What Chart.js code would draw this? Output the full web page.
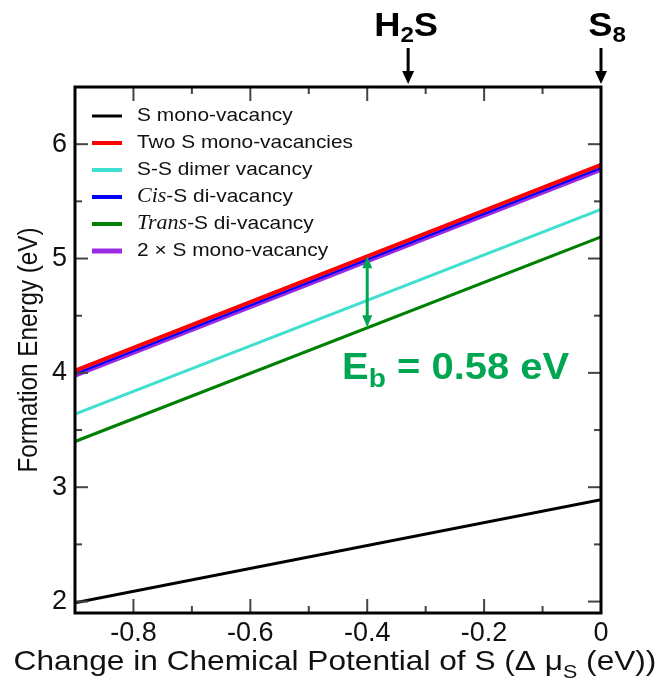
<!DOCTYPE html>
<html>
<head>
<meta charset="utf-8">
<script src="https://cdn.jsdelivr.net/npm/chart.js@4.4.0/dist/chart.umd.min.js"></script>
<style>
html, body { margin: 0; padding: 0; background: #fff; }
#wrap { width: 660px; height: 689px; position: relative; }
</style>
</head>
<body>
<div id="wrap"><canvas id="chart"></canvas></div>
<script>
// Datos (energia de formacion vs. delta mu_S)
const deltaMu = [-0.9, 0];
const monoVacancy = [1.99, 2.89];
const twoMonoVacancies = [4.02, 5.82];
const dimerVacancy = [3.64, 5.43];
const cisDiVacancy = [3.99, 5.79];
const transDiVacancy = [3.40, 5.19];
const twoTimesMono = [3.98, 5.78];

const xTicks = [-0.8, -0.6, -0.4, -0.2, 0];
const xMinorTicks = [-0.7, -0.5, -0.3, -0.1];
const yTicks = [2, 3, 4, 5, 6];
const yMinorTicks = [2.5, 3.5, 4.5, 5.5];

// anotaciones
const h2sMu = -0.33;
const s8Mu = 0;
const ebMu = -0.4;
const ebLow = 4.40;
const ebHigh = 5.02;
const ebLabelMu = -0.443;
const ebLabelE = 3.95;

const SANS = '"Liberation Sans", Arial, sans-serif';
const SERIF = '"Liberation Serif", "Times New Roman", serif';
const EB_GREEN = '#00a651';

const pts = (ys) => deltaMu.map((x, i) => ({ x: x, y: ys[i] }));

// dibuja texto con partes (subindices, cursivas); sx = estiramiento horizontal
function drawRich(ctx, parts, x, y, align, sx) {
    sx = sx || 1;
    let total = 0;
    parts.forEach(p => { ctx.font = p.font; total += ctx.measureText(p.t).width; });
    ctx.save();
    ctx.translate(x, y);
    ctx.scale(sx, 1);
    let cx = align === 'center' ? -total / 2 : 0;
    parts.forEach(p => {
        ctx.font = p.font;
        ctx.fillText(p.t, cx, p.dy || 0);
        cx += ctx.measureText(p.t).width;
    });
    ctx.restore();
}

function downArrow(ctx, x, y0, y1) {
    ctx.beginPath();
    ctx.moveTo(x, y0);
    ctx.lineTo(x, y1 - 10);
    ctx.stroke();
    ctx.beginPath();
    ctx.moveTo(x - 6, y1 - 13);
    ctx.lineTo(x + 6, y1 - 13);
    ctx.lineTo(x, y1);
    ctx.closePath();
    ctx.fill();
}

const legendRows = [
    { color: '#000000', width: 3, parts: [{ t: 'S mono-vacancy' }] },
    { color: '#ff0000', width: 4, parts: [{ t: 'Two S mono-vacancies' }] },
    { color: '#40e0d0', width: 4, parts: [{ t: 'S-S dimer vacancy' }] },
    { color: '#0000ff', width: 4, parts: [{ t: 'Cis', italic: true }, { t: '-S di-vacancy' }] },
    { color: '#008000', width: 4, parts: [{ t: 'Trans', italic: true }, { t: '-S di-vacancy' }] },
    { color: '#9a2be2', width: 5, parts: [{ t: '2 \u00d7 S mono-vacancy' }] }
];

const decoPlugin = {
    id: 'deco',
    afterDatasetsDraw(chart) {
        const ctx = chart.ctx;
        const a = chart.chartArea;
        const xs = chart.scales.x, ys = chart.scales.y;
        ctx.save();

        // marcas hacia dentro
        ctx.strokeStyle = '#444';
        ctx.lineWidth = 2;
        const tick = (x0, y0, x1, y1) => { ctx.beginPath(); ctx.moveTo(x0, y0); ctx.lineTo(x1, y1); ctx.stroke(); };
        xTicks.forEach(v => { const p = xs.getPixelForValue(v); tick(p, a.bottom, p, a.bottom - 14); tick(p, a.top, p, a.top + 14); });
        xMinorTicks.forEach(v => { const p = xs.getPixelForValue(v); tick(p, a.bottom, p, a.bottom - 7); tick(p, a.top, p, a.top + 7); });
        yTicks.forEach(v => { const p = ys.getPixelForValue(v); tick(a.left, p, a.left + 13, p); tick(a.right, p, a.right - 13, p); });
        yMinorTicks.forEach(v => { const p = ys.getPixelForValue(v); tick(a.left, p, a.left + 7, p); tick(a.right, p, a.right - 7, p); });

        // marco
        ctx.strokeStyle = '#000';
        ctx.lineWidth = 3;
        ctx.strokeRect(a.left, a.top, a.right - a.left, a.bottom - a.top);

        // leyenda
        ctx.textBaseline = 'middle';
        ctx.fillStyle = '#111';
        legendRows.forEach((r, i) => {
            const y = 116 + i * 27;
            ctx.strokeStyle = r.color;
            ctx.lineWidth = r.width;
            tick(a.left + 17, y, a.left + 47, y);
            drawRich(ctx, r.parts.map(p => ({
                t: p.t,
                font: p.italic ? 'italic 20px ' + SERIF : '19px ' + SANS
            })), a.left + 62, y, 'left', 1.1);
        });

        // titulo eje y (girado, estirado como en la figura)
        ctx.save();
        ctx.translate(29, (a.top + a.bottom) / 2);
        ctx.rotate(-Math.PI / 2);
        ctx.scale(0.865, 1);
        ctx.font = '28px ' + SANS;
        ctx.textAlign = 'center';
        ctx.textBaseline = 'middle';
        ctx.fillText('Formation Energy (eV)', 0, 0);
        ctx.restore();

        // flechas superiores
        ctx.fillStyle = '#000';
        ctx.strokeStyle = '#000';
        ctx.lineWidth = 3;
        ctx.textBaseline = 'alphabetic';
        const hx = xs.getPixelForValue(h2sMu);
        const sx = xs.getPixelForValue(s8Mu);
        downArrow(ctx, hx, 48, a.top - 3);
        downArrow(ctx, sx, 48, a.top - 3);
        drawRich(ctx, [
            { t: 'H', font: 'bold 33px ' + SANS },
            { t: '2', font: 'bold 22px ' + SANS, dy: 6 },
            { t: 'S', font: 'bold 33px ' + SANS }
        ], hx - 2, 36, 'center', 1.1);
        drawRich(ctx, [
            { t: 'S', font: 'bold 33px ' + SANS },
            { t: '8', font: 'bold 22px ' + SANS, dy: 6 }
        ], sx + 6, 36, 'center', 1.1);

        // flecha doble Eb
        ctx.strokeStyle = EB_GREEN;
        ctx.fillStyle = EB_GREEN;
        ctx.lineWidth = 3;
        const ex = xs.getPixelForValue(ebMu);
        const eTop = ys.getPixelForValue(ebHigh);
        const eBot = ys.getPixelForValue(ebLow);
        tick(ex, eTop + 10, ex, eBot - 10);
        ctx.beginPath(); ctx.moveTo(ex, eTop); ctx.lineTo(ex - 5, eTop + 12); ctx.lineTo(ex + 5, eTop + 12); ctx.closePath(); ctx.fill();
        ctx.beginPath(); ctx.moveTo(ex, eBot); ctx.lineTo(ex - 5, eBot - 12); ctx.lineTo(ex + 5, eBot - 12); ctx.closePath(); ctx.fill();
        drawRich(ctx, [
            { t: 'E', font: 'bold 37px ' + SANS },
            { t: 'b', font: 'bold 26px ' + SANS, dy: 8 },
            { t: ' = 0.58 eV', font: 'bold 37px ' + SANS }
        ], xs.getPixelForValue(ebLabelMu), ys.getPixelForValue(ebLabelE), 'left', 1.08);

        // titulo eje x
        ctx.fillStyle = '#111';
        drawRich(ctx, [
            { t: 'Change in Chemical Potential of S (\u0394 \u03bc', font: '28px ' + SANS },
            { t: 'S', font: '19px ' + SANS, dy: 8 },
            { t: ' (eV))', font: '28px ' + SANS }
        ], 335, 670, 'center', 1.13);

        ctx.restore();
    }
};

new Chart(document.getElementById('chart'), {
    type: 'line',
    data: {
        datasets: [
            { label: 'S mono-vacancy', data: pts(monoVacancy), borderColor: '#000000', borderWidth: 3, order: 1 },
            { label: 'Two S mono-vacancies', data: pts(twoMonoVacancies), borderColor: '#ff0000', borderWidth: 4, order: 3 },
            { label: 'S-S dimer vacancy', data: pts(dimerVacancy), borderColor: '#40e0d0', borderWidth: 3, order: 2 },
            { label: 'Cis-S di-vacancy', data: pts(cisDiVacancy), borderColor: '#0000ff', borderWidth: 2, order: 1 },
            { label: 'Trans-S di-vacancy', data: pts(transDiVacancy), borderColor: '#008000', borderWidth: 3, order: 2 },
            { label: '2 x S mono-vacancy', data: pts(twoTimesMono), borderColor: '#9a2be2', borderWidth: 5, order: 4 }
        ]
    },
    options: {
        responsive: true,
        maintainAspectRatio: false,
        animation: false,
        elements: { point: { radius: 0 }, line: { tension: 0 } },
        layout: { padding: { left: 0, top: 87, right: 59, bottom: 0 } },
        plugins: { legend: { display: false }, tooltip: { enabled: false } },
        scales: {
            x: {
                type: 'linear',
                min: -0.9,
                max: 0,
                grid: { display: false, drawTicks: false },
                border: { display: false },
                afterBuildTicks: s => { s.ticks = xTicks.map(v => ({ value: v })); },
                afterFit: s => { s.height = 76; },
                ticks: {
                    padding: 4,
                    color: '#111',
                    font: { family: SANS, size: 27 },
                    callback: v => (Math.abs(v) < 1e-9 ? '0' : v.toFixed(1))
                }
            },
            y: {
                type: 'linear',
                min: 1.9,
                max: 6.5,
                grid: { display: false, drawTicks: false },
                border: { display: false },
                afterBuildTicks: s => { s.ticks = yTicks.map(v => ({ value: v })); },
                afterFit: s => { s.width = 75; },
                ticks: {
                    padding: 8,
                    color: '#111',
                    font: { family: SANS, size: 27 },
                    callback: v => String(v)
                }
            }
        }
    },
    plugins: [decoPlugin]
});
</script>
</body>
</html>
